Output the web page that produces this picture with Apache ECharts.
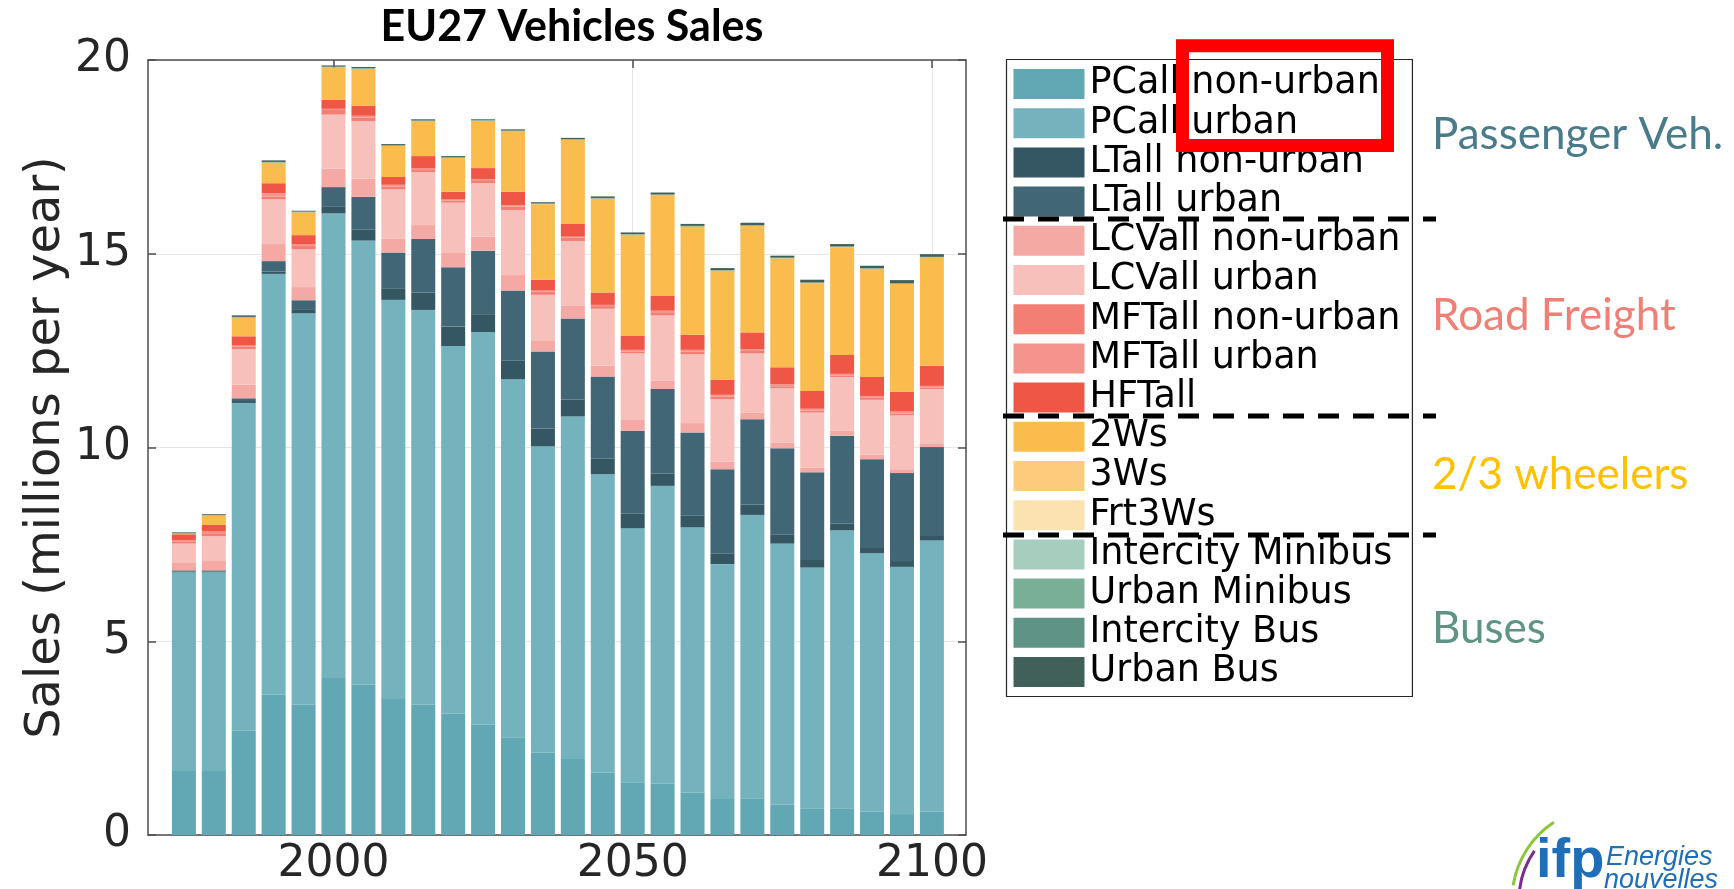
<!DOCTYPE html>
<html>
<head>
<meta charset="utf-8">
<title>EU27 Vehicles Sales</title>
<script src="https://cdn.jsdelivr.net/npm/echarts@6/dist/echarts.min.js"></script>
<style>
	html, body { margin: 0; padding: 0; background: #fff; }
	#chart { width: 1734px; height: 889px; }
</style>
</head>
<body>
<div id="chart"></div>
<script>
// years on the x axis (one bar every 5 years)
var years = ['1975', '1980', '1985', '1990', '1995', '2000', '2005', '2010', '2015', '2020', '2025', '2030', '2035',
	'2040', '2045', '2050', '2055', '2060', '2065', '2070', '2075', '2080', '2085', '2090', '2095', '2100'];
var tickYears = [2000, 2050, 2100];

// sales, millions per year, stacked from the bottom
var pcNonUrban = [1.65, 1.65, 2.69, 3.62, 3.36, 4.05, 3.88, 3.51, 3.36, 3.13, 2.85, 2.52, 2.13, 1.96, 1.61, 1.36, 1.32, 1.09, 0.93, 0.95, 0.78, 0.69, 0.69, 0.60, 0.54, 0.60];
var pcUrban = [5.13, 5.13, 8.46, 10.86, 10.10, 11.99, 11.46, 10.30, 10.19, 9.49, 10.13, 9.24, 7.90, 8.84, 7.70, 6.56, 7.69, 6.85, 6.06, 7.31, 6.74, 6.21, 7.17, 6.67, 6.38, 7.00];
var ltNonUrban = [0.02, 0.02, 0.05, 0.06, 0.09, 0.17, 0.28, 0.30, 0.45, 0.50, 0.46, 0.48, 0.46, 0.43, 0.40, 0.37, 0.31, 0.30, 0.27, 0.26, 0.23, 0.20, 0.17, 0.16, 0.15, 0.14];
var ltUrban = [0.03, 0.03, 0.07, 0.27, 0.25, 0.51, 0.85, 0.92, 1.38, 1.53, 1.64, 1.81, 1.99, 2.10, 2.12, 2.14, 2.19, 2.15, 2.18, 2.21, 2.23, 2.26, 2.27, 2.27, 2.27, 2.27];
var lcvNonUrban = [0.19, 0.26, 0.35, 0.44, 0.34, 0.48, 0.47, 0.36, 0.36, 0.37, 0.36, 0.40, 0.27, 0.34, 0.28, 0.28, 0.22, 0.24, 0.20, 0.17, 0.15, 0.12, 0.14, 0.11, 0.10, 0.10];
var lcvUrban = [0.50, 0.62, 0.92, 1.16, 0.98, 1.39, 1.48, 1.27, 1.36, 1.30, 1.38, 1.68, 1.19, 1.66, 1.47, 1.72, 1.68, 1.78, 1.61, 1.53, 1.40, 1.42, 1.38, 1.42, 1.39, 1.40];
var mftNonUrban = [0.06, 0.08, 0.07, 0.06, 0.08, 0.12, 0.10, 0.07, 0.06, 0.05, 0.08, 0.09, 0.08, 0.09, 0.07, 0.05, 0.06, 0.06, 0.06, 0.06, 0.05, 0.05, 0.04, 0.05, 0.05, 0.04];
var mftUrban = [0.03, 0.04, 0.02, 0.09, 0.05, 0.03, 0.04, 0.05, 0.04, 0.03, 0.03, 0.03, 0.03, 0.02, 0.03, 0.04, 0.06, 0.05, 0.05, 0.05, 0.05, 0.05, 0.04, 0.05, 0.05, 0.04];
var hftAll = [0.15, 0.17, 0.24, 0.26, 0.23, 0.23, 0.26, 0.20, 0.32, 0.20, 0.28, 0.35, 0.28, 0.33, 0.32, 0.36, 0.38, 0.39, 0.39, 0.43, 0.44, 0.46, 0.49, 0.49, 0.51, 0.52];
var twoWheelers = [0.01, 0.24, 0.48, 0.53, 0.59, 0.84, 0.95, 0.80, 0.90, 0.87, 1.22, 1.56, 1.95, 2.17, 2.42, 2.61, 2.60, 2.79, 2.81, 2.75, 2.81, 2.78, 2.78, 2.79, 2.78, 2.79];
var threeWheelers = [0, 0, 0, 0, 0, 0, 0, 0, 0, 0, 0, 0, 0, 0, 0, 0, 0, 0, 0, 0, 0, 0, 0, 0, 0, 0];
var frtThreeWheelers = [0, 0, 0, 0, 0, 0, 0, 0, 0, 0, 0, 0, 0, 0, 0, 0, 0, 0, 0, 0, 0, 0, 0, 0, 0, 0];
var intercityMinibus = [0, 0, 0, 0, 0, 0, 0, 0, 0, 0, 0, 0, 0, 0, 0, 0, 0, 0, 0, 0, 0, 0, 0, 0, 0, 0];
var urbanMinibus = [0.01, 0.01, 0.01, 0.01, 0.01, 0.01, 0.01, 0.01, 0.01, 0.01, 0.01, 0.01, 0.01, 0.01, 0.01, 0.01, 0.01, 0.01, 0.01, 0.01, 0.01, 0.01, 0.01, 0.01, 0.01, 0.01];
var intercityBus = [0.01, 0.01, 0.01, 0.01, 0.01, 0.01, 0.01, 0.01, 0.01, 0.01, 0.01, 0.01, 0.01, 0.01, 0.01, 0.01, 0.01, 0.01, 0.01, 0.01, 0.01, 0.01, 0.01, 0.01, 0.01, 0.01];
var urbanBus = [0.02, 0.02, 0.04, 0.04, 0.02, 0.03, 0.03, 0.03, 0.03, 0.03, 0.02, 0.03, 0.03, 0.03, 0.04, 0.04, 0.05, 0.05, 0.05, 0.06, 0.05, 0.07, 0.06, 0.06, 0.08, 0.07];

var seriesNames = ['PCall non-urban', 'PCall urban', 'LTall non-urban', 'LTall urban',
	'LCVall non-urban', 'LCVall urban', 'MFTall non-urban', 'MFTall urban', 'HFTall',
	'2Ws', '3Ws', 'Frt3Ws', 'Intercity Minibus', 'Urban Minibus', 'Intercity Bus', 'Urban Bus'];
var seriesValues = [pcNonUrban, pcUrban, ltNonUrban, ltUrban, lcvNonUrban, lcvUrban,
	mftNonUrban, mftUrban, hftAll, twoWheelers, threeWheelers, frtThreeWheelers,
	intercityMinibus, urbanMinibus, intercityBus, urbanBus];
var seriesColors = ['#61a8b4', '#74b2bd', '#355764', '#416676', '#f5a9a5', '#f8c0bb',
	'#f27e74', '#f5948c', '#f05646', '#fbbc4e', '#fccb7b', '#fde2b1',
	'#a7cdbf', '#79af96', '#5e9385', '#42605a'];

var axisColor = '#4d4d4d';
var labelFont = 'DejaVu Sans';

// the box axes run 1969 .. 2105.7, the bars sit on 5-year bands 1972.5 .. 2102.5
var boxLeft = 148, boxWidth = 818, xMin = 1969, xMax = 2105.7;
var pxPerYear = boxWidth / (xMax - xMin);
var barsLeft = boxLeft + (1972.5 - xMin) * pxPerYear;
var barsWidth = 130 * pxPerYear;

var series = [];
for (var i = 0; i < seriesNames.length; i++) {
	series.push({
		name: seriesNames[i],
		type: 'bar',
		stack: 'sales',
		barWidth: 24,
		xAxisIndex: 2,
		yAxisIndex: 2,
		itemStyle: { color: seriesColors[i] },
		data: seriesValues[i]
	});
}

function yearLabel(v) {
	return String(v);
}

var myChart = echarts.init(document.getElementById('chart'), null, { renderer: 'canvas' });
var option = {
	animation: false,
	backgroundColor: '#fff',
	grid: [
		{ left: boxLeft, top: 60, width: boxWidth, height: 775, outerBoundsMode: 'none' },
		{ left: barsLeft, top: 60, width: barsWidth, height: 775, outerBoundsMode: 'none' }
	],
	legend: {
		orient: 'vertical',
		left: 1006.5,
		top: 59.5,
		padding: [6, 12, 6, 7],
		itemWidth: 71,
		itemHeight: 30,
		itemGap: 2.2,
		icon: 'rect',
		selectedMode: false,
		borderColor: '#262626',
		borderWidth: 1.2,
		borderRadius: 0,
		backgroundColor: '#fff',
		textStyle: { fontFamily: labelFont, fontSize: 36.5, color: '#000' },
		data: seriesNames
	},
	xAxis: [{
		type: 'value',
		gridIndex: 0,
		min: xMin,
		max: xMax,
		position: 'bottom',
		axisLine: { show: true, onZero: false, lineStyle: { color: axisColor, width: 1.5 } },
		axisTick: { show: true, inside: true, length: 8, customValues: tickYears, lineStyle: { color: axisColor, width: 1.5 } },
		axisLabel: { customValues: tickYears, formatter: yearLabel, fontFamily: labelFont, fontSize: 44, color: '#262626', margin: 8 },
		splitLine: { show: true, lineStyle: { color: '#e6e6e6', width: 1 } }
	}, {
		type: 'value',
		gridIndex: 0,
		min: xMin,
		max: xMax,
		position: 'top',
		axisLine: { show: true, onZero: false, lineStyle: { color: axisColor, width: 1.5 } },
		axisTick: { show: true, inside: true, length: 8, customValues: tickYears, lineStyle: { color: axisColor, width: 1.5 } },
		axisLabel: { show: false },
		splitLine: { show: false }
	}, {
		type: 'category',
		gridIndex: 1,
		data: years,
		show: false
	}],
	yAxis: [{
		type: 'value',
		gridIndex: 0,
		min: 0,
		max: 20,
		interval: 5,
		position: 'left',
		name: 'Sales (millions per year)',
		nameLocation: 'middle',
		nameRotate: 90,
		nameGap: 77,
		nameTextStyle: { fontFamily: labelFont, fontSize: 48, color: '#262626' },
		axisLine: { show: true, lineStyle: { color: axisColor, width: 1.5 } },
		axisTick: { show: true, inside: true, length: 8, lineStyle: { color: axisColor, width: 1.5 } },
		axisLabel: { fontFamily: labelFont, fontSize: 44, color: '#262626', margin: 17 },
		splitLine: { show: true, lineStyle: { color: '#e6e6e6', width: 1 } }
	}, {
		type: 'value',
		gridIndex: 0,
		min: 0,
		max: 20,
		interval: 5,
		position: 'right',
		axisLine: { show: true, lineStyle: { color: axisColor, width: 1.5 } },
		axisTick: { show: true, inside: true, length: 8, lineStyle: { color: axisColor, width: 1.5 } },
		axisLabel: { show: false },
		splitLine: { show: false }
	}, {
		type: 'value',
		gridIndex: 1,
		min: 0,
		max: 20,
		show: false
	}],
	graphic: [
		// title
		{ type: 'text', x: 572, y: 27, z: 100, style: { text: 'EU27 Vehicles Sales', font: 'bold 43px Lato', fill: '#000', textAlign: 'center', align: 'center', textVerticalAlign: 'middle', verticalAlign: 'middle' } },
		// group labels right of the legend
		{ type: 'text', x: 1432, y: 135, z: 100, style: { text: 'Passenger Veh.', font: '44px Lato', fill: '#4a7b8b', textVerticalAlign: 'middle', verticalAlign: 'middle' } },
		{ type: 'text', x: 1432, y: 316, z: 100, style: { text: 'Road Freight', font: '44px Lato', fill: '#f07f76', textVerticalAlign: 'middle', verticalAlign: 'middle' } },
		{ type: 'text', x: 1432, y: 475, z: 100, style: { text: '2/3 wheelers', font: '44px Lato', fill: '#ffc000', textVerticalAlign: 'middle', verticalAlign: 'middle' } },
		{ type: 'text', x: 1432, y: 629, z: 100, style: { text: 'Buses', font: '44px Lato', fill: '#5e9385', textVerticalAlign: 'middle', verticalAlign: 'middle' } },
		// dashed separators
		{ type: 'line', z: 100, shape: { x1: 1003, y1: 219, x2: 1436, y2: 219 }, style: { stroke: '#000', lineWidth: 5, lineDash: [21, 14] } },
		{ type: 'line', z: 100, shape: { x1: 1003, y1: 416, x2: 1436, y2: 416 }, style: { stroke: '#000', lineWidth: 5, lineDash: [21, 14] } },
		{ type: 'line', z: 100, shape: { x1: 1003, y1: 535, x2: 1436, y2: 535 }, style: { stroke: '#000', lineWidth: 5, lineDash: [21, 14] } },
		// red highlight box
		{ type: 'rect', z: 101, shape: { x: 1182.5, y: 45.8, width: 205, height: 99.7 }, style: { fill: 'none', stroke: '#ff0000', lineWidth: 13 } },
		// logo
		{ type: 'arc', z: 100, shape: { cx: 1605, cy: 900, r: 93, startAngle: 3.3, endAngle: 4.13 }, style: { fill: 'none', stroke: '#8cc63f', lineWidth: 3 } },
		{ type: 'arc', z: 100, shape: { cx: 1605, cy: 900, r: 86, startAngle: 3.2, endAngle: 3.75 }, style: { fill: 'none', stroke: '#7b2d8e', lineWidth: 3 } },
		{ type: 'text', x: 1536, y: 862, z: 100, style: { text: 'ifp', font: 'bold 56px Liberation Sans', fill: '#1e6fb8', textVerticalAlign: 'middle', verticalAlign: 'middle' } },
		{ type: 'text', x: 1606, y: 857, z: 100, style: { text: 'Energies', font: 'italic 27px Liberation Sans', fill: '#1e6fb8', textVerticalAlign: 'middle', verticalAlign: 'middle' } },
		{ type: 'text', x: 1604, y: 880, z: 100, style: { text: 'nouvelles', font: 'italic 27px Liberation Sans', fill: '#1e6fb8', textVerticalAlign: 'middle', verticalAlign: 'middle' } }
	],
	series: series
};
myChart.setOption(option);
</script>
</body>
</html>
